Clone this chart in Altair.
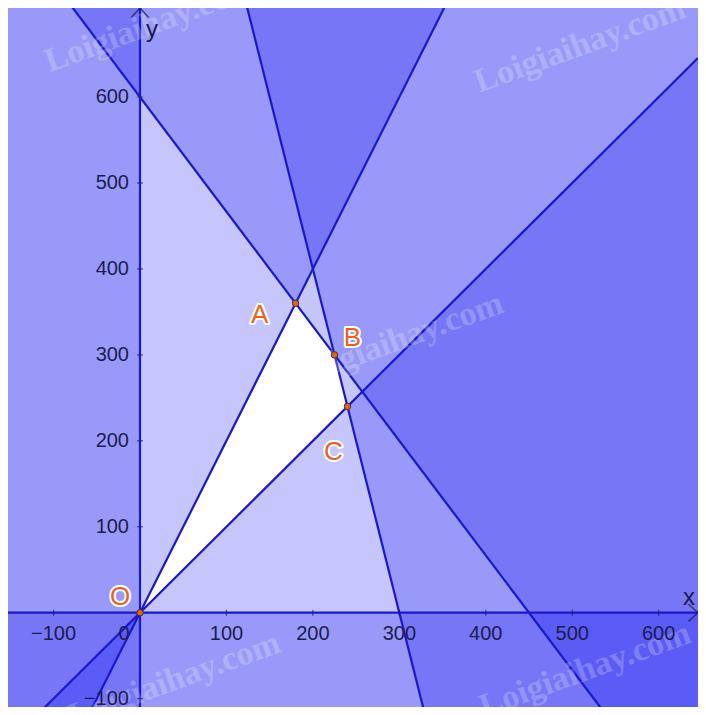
import altair as alt
import pandas as pd

# visible window in data units
x_min, x_max = -152.7, 645.5
y_min, y_max = -109.7, 703.6

# constraints  a*x + b*y <= c  (violated side is shaded)
con_a = [4, 4, -2, 1, -1, 0]
con_b = [3, 1, 1, -1, 0, -1]
con_c = [1800, 1200, 0, 0, 0, 0]

# vertices of the feasible region
pt_names = ["O", "A", "B", "C"]
pt_x = [0, 180, 225, 240]
pt_y = [0, 360, 300, 240]

# axis tick values
x_ticks = [-100, 0, 100, 200, 300, 400, 500, 600]
y_ticks = [-100, 100, 200, 300, 400, 500, 600]

# watermark anchors
wm_text = "Loigiaihay.com"
wm_x = [12, 509, 298, 40, 515]
wm_y = [684, 660, 317, -78, -67]

FILL = "#0000F2"
LINE = "#1818D0"
NAVY = "#1c1c50"
ORANGE = "#E8641E"

xs = alt.Scale(domain=[x_min, x_max], nice=False, zero=False)
ys = alt.Scale(domain=[y_min, y_max], nice=False, zero=False)
X = lambda f: alt.X(f, type="quantitative", scale=xs, axis=None)
Y = lambda f: alt.Y(f, type="quantitative", scale=ys, axis=None)


def halfplane(a, b, c):
    if b != 0:
        xv = [x_min, x_max]
        yv = [(c - a * x) / b for x in xv]
        far = y_max if b > 0 else y_min
        return pd.DataFrame({"x": xv, "y": yv, "y2": [far, far]})
    x0 = c / a
    xv = [x_min, x0] if a < 0 else [x0, x_max]
    return pd.DataFrame({"x": xv, "y": [y_min, y_min], "y2": [y_max, y_max]})


layers = []
for a, b, c in zip(con_a, con_b, con_c):
    df = halfplane(a, b, c)
    layers.append(
        alt.Chart(df).mark_area(color=FILL, fillOpacity=0.225, clip=True, interpolate="linear")
        .encode(x=X("x"), y=Y("y"), y2="y2")
    )

# boundary lines
rows = []
for i, (a, b, c) in enumerate(zip(con_a, con_b, con_c)):
    if b != 0:
        for k, x in enumerate([x_min, x_max]):
            rows.append({"id": i, "x": x, "y": (c - a * x) / b, "o": k})
    else:
        for k, y in enumerate([y_min, y_max]):
            rows.append({"id": i, "x": c / a, "y": y, "o": k})
lines_df = pd.DataFrame(rows)
layers.append(
    alt.Chart(lines_df).mark_line(color=LINE, strokeWidth=2.2, clip=True)
    .encode(x=X("x"), y=Y("y"), detail="id:N", order="o:Q")
)

# watermarks
wm_df = pd.DataFrame({"x": wm_x, "y": wm_y, "t": [wm_text] * len(wm_x)})
layers.append(
    alt.Chart(wm_df).mark_text(font="Liberation Serif", fontWeight="bold", fontSize=34,
                               color="white", opacity=0.22, angle=340, clip=True)
    .encode(x=X("x"), y=Y("y"), text="t:N")
)

# ticks
xt_df = pd.DataFrame({"x": [t for t in x_ticks if t != 0], "y": 0})
yt_df = pd.DataFrame({"x": 0, "y": y_ticks})
layers.append(
    alt.Chart(xt_df).mark_tick(orient="vertical", color=NAVY, size=6, thickness=1.2)
    .encode(x=X("x"), y=Y("y"))
)
layers.append(
    alt.Chart(yt_df).mark_tick(orient="horizontal", color=NAVY, size=6, thickness=1.2)
    .encode(x=X("x"), y=Y("y"))
)

# tick labels
fmt = lambda v: str(v).replace("-", "\u2212")
xl_df = pd.DataFrame({"x": [t for t in x_ticks if t != 0], "y": 0,
                      "t": [fmt(t) for t in x_ticks if t != 0]})
layers.append(
    alt.Chart(xl_df).mark_text(font="Liberation Sans", fontSize=20, color=NAVY,
                               baseline="middle", dy=21)
    .encode(x=X("x"), y=Y("y"), text="t:N")
)
layers.append(
    alt.Chart(pd.DataFrame({"x": [0], "y": [0], "t": ["0"]}))
    .mark_text(font="Liberation Sans", fontSize=20, color=NAVY, baseline="middle", dy=21, dx=-16)
    .encode(x=X("x"), y=Y("y"), text="t:N")
)
yl_df = pd.DataFrame({"x": 0, "y": y_ticks, "t": [fmt(t) for t in y_ticks]})
layers.append(
    alt.Chart(yl_df).mark_text(font="Liberation Sans", fontSize=20, color=NAVY,
                               baseline="middle", align="right", dx=-11)
    .encode(x=X("x"), y=Y("y"), text="t:N")
)

# axis arrows and names
layers.append(
    alt.Chart(pd.DataFrame({"x": [0], "y": [y_max]}))
    .mark_point(shape="M-1,1.1L0,0L1,1.1", size=300, filled=False, color=NAVY, strokeWidth=1.6, clip=False)
    .encode(x=X("x"), y=Y("y"))
)
layers.append(
    alt.Chart(pd.DataFrame({"x": [x_max], "y": [0]}))
    .mark_point(shape="M-1.1,-1L0,0L-1.1,1", size=300, filled=False, color=NAVY, strokeWidth=1.6, clip=True)
    .encode(x=X("x"), y=Y("y"))
)
layers.append(
    alt.Chart(pd.DataFrame({"x": [0], "y": [y_max], "t": ["y"]}))
    .mark_text(font="Liberation Sans", fontSize=24, color=NAVY, align="left", baseline="middle", dx=6, dy=22)
    .encode(x=X("x"), y=Y("y"), text="t:N")
)
layers.append(
    alt.Chart(pd.DataFrame({"x": [x_max], "y": [0], "t": ["x"]}))
    .mark_text(font="Liberation Sans", fontSize=24, color=NAVY, align="right", baseline="middle", dx=-3, dy=-15)
    .encode(x=X("x"), y=Y("y"), text="t:N")
)

# vertices
pts_df = pd.DataFrame({"x": pt_x, "y": pt_y, "n": pt_names})
layers.append(
    alt.Chart(pts_df).mark_point(filled=True, fill="#D2691E", stroke="#5a2a10", strokeWidth=1,
                                 size=42, opacity=1)
    .encode(x=X("x"), y=Y("y"))
)
label_offsets = {"O": (-20, -16), "A": (-36, 12), "B": (18, -17), "C": (-14, 46)}
for n, (dx, dy) in label_offsets.items():
    sub = pts_df[pts_df.n == n]
    for stroke, sw in (("white", 4), (None, 0)):
        kw = dict(font="Liberation Sans", fontSize=26, fill=ORANGE, align="center",
                  baseline="middle", dx=dx, dy=dy)
        if stroke:
            kw.update(stroke=stroke, strokeWidth=sw, strokeJoin="round")
        layers.append(
            alt.Chart(sub).mark_text(**kw).encode(x=X("x"), y=Y("y"), text="n:N")
        )

chart = (
    alt.layer(*layers)
    .properties(width=690, height=699, padding=0, autosize="none", background="white")
    .configure_view(stroke=None)
)

chart.save("out.html", embed_options={"renderer": "svg", "actions": False})
